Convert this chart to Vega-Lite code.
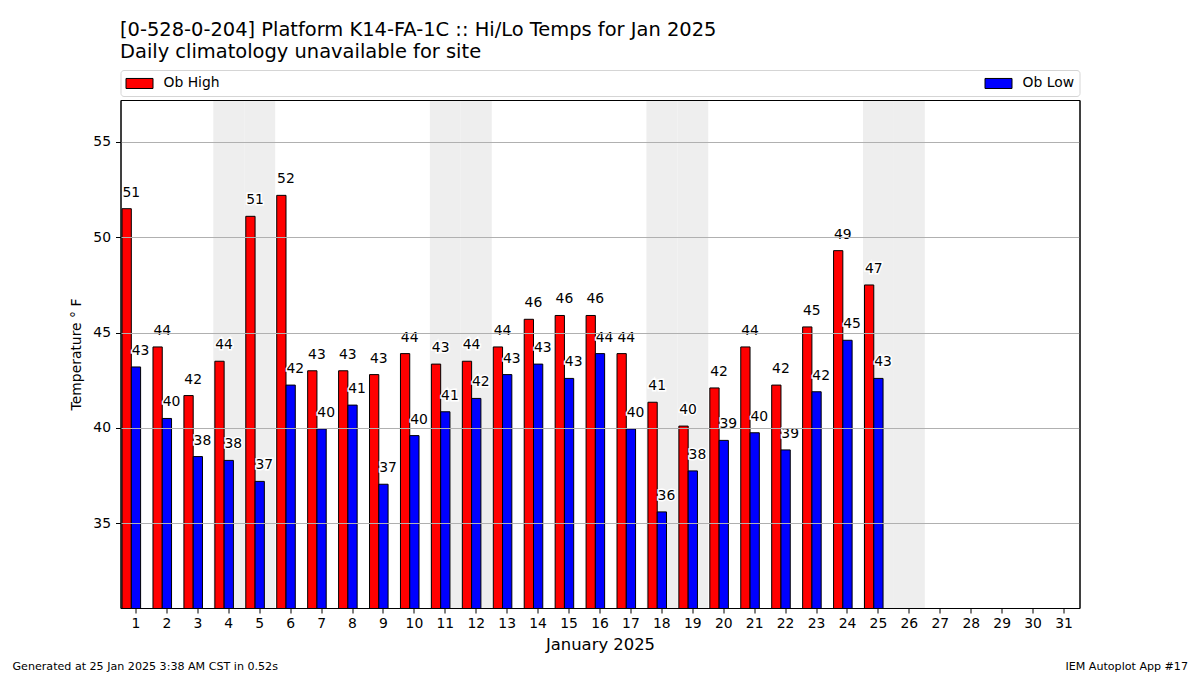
{
"$schema":"https://vega.github.io/schema/vega-lite/v6.json",
"width":959,"height":508,
"autosize":{"type":"none"},
"padding":{"left":120.5,"top":100,"right":120.5,"bottom":67},
"background":"white",
"config":{"font":"DejaVu Sans","view":{"stroke":"black","strokeWidth":1}},
"title":{"text":["[0-528-0-204] Platform K14-FA-1C :: Hi/Lo Temps for Jan 2025","Daily climatology unavailable for site"],"anchor":"start","frame":"group","fontSize":19.45,"fontWeight":"normal","lineHeight":22,"color":"black","offset":7,"dx":-0.5},
"datasets":{
"obs":[
{"day":1,"series":"Ob High","temp":51.5,"label":51},{"day":1,"series":"Ob Low","temp":43.2,"label":43},
{"day":2,"series":"Ob High","temp":44.25,"label":44},{"day":2,"series":"Ob Low","temp":40.5,"label":40},
{"day":3,"series":"Ob High","temp":41.7,"label":42},{"day":3,"series":"Ob Low","temp":38.5,"label":38},
{"day":4,"series":"Ob High","temp":43.5,"label":44},{"day":4,"series":"Ob Low","temp":38.3,"label":38},
{"day":5,"series":"Ob High","temp":51.1,"label":51},{"day":5,"series":"Ob Low","temp":37.2,"label":37},
{"day":6,"series":"Ob High","temp":52.2,"label":52},{"day":6,"series":"Ob Low","temp":42.25,"label":42},
{"day":7,"series":"Ob High","temp":43.0,"label":43},{"day":7,"series":"Ob Low","temp":39.95,"label":40},
{"day":8,"series":"Ob High","temp":43.0,"label":43},{"day":8,"series":"Ob Low","temp":41.2,"label":41},
{"day":9,"series":"Ob High","temp":42.8,"label":43},{"day":9,"series":"Ob Low","temp":37.05,"label":37},
{"day":10,"series":"Ob High","temp":43.9,"label":44},{"day":10,"series":"Ob Low","temp":39.6,"label":40},
{"day":11,"series":"Ob High","temp":43.35,"label":43},{"day":11,"series":"Ob Low","temp":40.85,"label":41},
{"day":12,"series":"Ob High","temp":43.5,"label":44},{"day":12,"series":"Ob Low","temp":41.55,"label":42},
{"day":13,"series":"Ob High","temp":44.25,"label":44},{"day":13,"series":"Ob Low","temp":42.8,"label":43},
{"day":14,"series":"Ob High","temp":45.7,"label":46},{"day":14,"series":"Ob Low","temp":43.35,"label":43},
{"day":15,"series":"Ob High","temp":45.9,"label":46},{"day":15,"series":"Ob Low","temp":42.6,"label":43},
{"day":16,"series":"Ob High","temp":45.9,"label":46},{"day":16,"series":"Ob Low","temp":43.9,"label":44},
{"day":17,"series":"Ob High","temp":43.9,"label":44},{"day":17,"series":"Ob Low","temp":39.95,"label":40},
{"day":18,"series":"Ob High","temp":41.35,"label":41},{"day":18,"series":"Ob Low","temp":35.6,"label":36},
{"day":19,"series":"Ob High","temp":40.1,"label":40},{"day":19,"series":"Ob Low","temp":37.75,"label":38},
{"day":20,"series":"Ob High","temp":42.1,"label":42},{"day":20,"series":"Ob Low","temp":39.35,"label":39},
{"day":21,"series":"Ob High","temp":44.25,"label":44},{"day":21,"series":"Ob Low","temp":39.75,"label":40},
{"day":22,"series":"Ob High","temp":42.25,"label":42},{"day":22,"series":"Ob Low","temp":38.85,"label":39},
{"day":23,"series":"Ob High","temp":45.3,"label":45},{"day":23,"series":"Ob Low","temp":41.9,"label":42},
{"day":24,"series":"Ob High","temp":49.3,"label":49},{"day":24,"series":"Ob Low","temp":44.6,"label":45},
{"day":25,"series":"Ob High","temp":47.5,"label":47},{"day":25,"series":"Ob Low","temp":42.6,"label":43}
]},
"layer":[
{
"encoding":{"x":{"field":"day","type":"ordinal","scale":{"domain":[1,2,3,4,5,6,7,8,9,10,11,12,13,14,15,16,17,18,19,20,21,22,23,24,25,26,27,28,29,30,31],"paddingInner":0,"paddingOuter":0},"axis":{"title":"January 2025","titleFontSize":16.4,"titleFontWeight":"normal","titleColor":"black","titlePadding":7,"labelAngle":0,"labelFontSize":13.9,"labelColor":"black","labelPadding":3,"tickColor":"black","tickSize":5,"domainColor":"black","grid":false,"zindex":1}}},
"layer":[
{"data":{"values":[{"day":4},{"day":5},{"day":11},{"day":12},{"day":18},{"day":19},{"day":25},{"day":26}]},"mark":{"type":"bar","color":"#eeeeee"}},
{"data":{"name":"obs"},"mark":{"type":"bar","stroke":"black","strokeWidth":1,"clip":true},
"encoding":{
"xOffset":{"field":"series","type":"nominal","scale":{"domain":["Ob High","Ob Low"],"paddingInner":0,"paddingOuter":0.667,"align":0.125}},
"y":{"field":"temp","type":"quantitative","scale":{"domain":[30.56,57.2],"nice":false,"zero":false},"axis":{"title":"Temperature ° F","titleFontSize":13.9,"titleFontWeight":"normal","titleColor":"black","titlePadding":9,"values":[35,40,45,50,55],"labelFontSize":13.9,"labelColor":"black","labelPadding":5,"tickColor":"black","tickSize":5,"domainColor":"black","grid":true,"gridColor":"#b0b0b0","gridWidth":1,"zindex":1}},
"color":{"field":"series","type":"nominal","scale":{"domain":["Ob High","Ob Low"],"range":["#ff0000","#0000ff"]},"legend":{"orient":"none","legendX":0,"legendY":-30,"direction":"horizontal","columns":2,"title":null,"columnPadding":762,"labelFontSize":13.9,"labelColor":"black","labelOffset":22,"symbolType":"M-1,-0.67H2.6V0.67H-1Z","symbolSize":225,"symbolStrokeColor":"black","symbolStrokeWidth":1,"strokeColor":"#d5d5d5","fillColor":"white","cornerRadius":3,"padding":5}}
}},
{"data":{"name":"obs"},"mark":{"type":"text","fontSize":13.9,"color":"white","stroke":"white","strokeWidth":3,"baseline":"bottom","dx":4.6,"dy":-9},
"encoding":{"xOffset":{"field":"series","type":"nominal","scale":{"domain":["Ob High","Ob Low"],"paddingInner":0,"paddingOuter":0.667,"align":0.125}},"y":{"field":"temp","type":"quantitative"},"text":{"field":"label","type":"quantitative"}}},
{"data":{"name":"obs"},"mark":{"type":"text","fontSize":13.9,"color":"black","baseline":"bottom","dx":4.6,"dy":-9},
"encoding":{"xOffset":{"field":"series","type":"nominal","scale":{"domain":["Ob High","Ob Low"],"paddingInner":0,"paddingOuter":0.667,"align":0.125}},"y":{"field":"temp","type":"quantitative"},"text":{"field":"label","type":"quantitative"}}}
]
},
{
"data":{"values":[{"a":0,"b":0}]},
"mark":{"type":"point","opacity":0},
"encoding":{
"x":{"field":"a","type":"quantitative","axis":{"orient":"top","labels":false,"ticks":false,"domain":true,"domainColor":"black","zindex":1,"grid":false,"title":"Generated at 25 Jan 2025 3:38 AM CST in 0.52s","titleFontSize":11.1,"titleFontWeight":"normal","titleColor":"black","titleX":-108.5,"titleY":566,"titleAlign":"left","titleAnchor":"start","titleBaseline":"middle"}},
"y":{"field":"b","type":"quantitative","axis":{"orient":"right","labels":false,"ticks":false,"domain":true,"domainColor":"black","zindex":1,"grid":false,"title":"IEM Autoplot App #17","titleFontSize":11.1,"titleFontWeight":"normal","titleColor":"black","titleAngle":0,"titleX":108,"titleY":566,"titleAlign":"right","titleBaseline":"middle"}}
}
}
],
"resolve":{"scale":{"x":"independent","y":"independent"},"axis":{"x":"independent","y":"independent"}}
}
